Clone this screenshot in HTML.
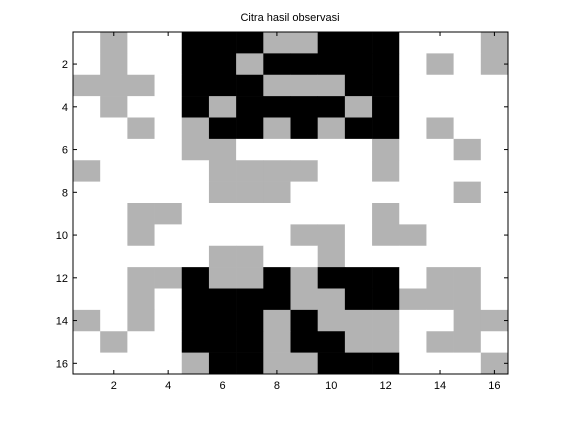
<!DOCTYPE html>
<html><head><meta charset="utf-8"><style>
body{margin:0;background:#fff;width:561px;height:420px;overflow:hidden}
svg text{font-family:"Liberation Sans",sans-serif;font-size:11px;fill:#000}
</style></head><body>
<svg id="chart" width="561" height="420" xmlns="http://www.w3.org/2000/svg">
<text x="290" y="21" text-anchor="middle">Citra hasil observasi</text>
<g id="cells"></g>
<g id="axes"></g>
</svg>
<script>
const rows = [
"0100222112220001",
"0100221222220101",
"1110222111220000",
"0100212222120000",
"0010122121220100",
"0000110000010010",
"1000011110010000",
"0000011100000010",
"0011000000010000",
"0010000011011000",
"0000011001000000",
"0011211212220110",
"0010222211221110",
"1010222121110011",
"0100222122110110",
"0000122112220001"
];
const xTicks = [2,4,6,8,10,12,14,16];
const yTicks = [2,4,6,8,10,12,14,16];
const colors = ["#ffffff","#b3b3b3","#000000"];
const L=73,R=508,T=32,B=374,N=16;
const sx=v=>L+(v-0.5)*(R-L)/N, sy=v=>T+(v-0.5)*(B-T)/N;
const NS="http://www.w3.org/2000/svg";
const cg=document.getElementById('cells'), ag=document.getElementById('axes');
rows.forEach((r,i)=>{[...r].forEach((c,j)=>{
  const e=document.createElementNS(NS,'rect');
  
  
  const x0=sx(j+0.5),x1=sx(j+1.5),y0=sy(i+0.5),y1=sy(i+1.5);
  e.setAttribute('x',x0);e.setAttribute('y',y0);
  e.setAttribute('width',x1-x0+0.3);e.setAttribute('height',y1-y0+0.3);
  e.setAttribute('fill',colors[+c]);cg.appendChild(e);
});});
const fr=document.createElementNS(NS,'rect');


fr.setAttribute('x',L);fr.setAttribute('y',T);fr.setAttribute('width',R-L);fr.setAttribute('height',B-T);
fr.setAttribute('fill','none');fr.setAttribute('stroke','#000');ag.appendChild(fr);
function line(x1,y1,x2,y2){const l=document.createElementNS(NS,'line');


l.setAttribute('x1',x1);l.setAttribute('y1',y1);l.setAttribute('x2',x2);l.setAttribute('y2',y2);l.setAttribute('stroke','#000');ag.appendChild(l);}
xTicks.forEach(v=>{const x=sx(v);line(x,B,x,B-4);line(x,T,x,T+4);
 const t=document.createElementNS(NS,'text');
 
 
 t.setAttribute('x',x);t.setAttribute('y',B+15);t.setAttribute('text-anchor','middle');t.textContent=v;ag.appendChild(t);});
yTicks.forEach(v=>{const y=sy(v);line(L,y,L+4,y);line(R,y,R-4,y);
 const t=document.createElementNS(NS,'text');
 
 
 t.setAttribute('x',L-5);t.setAttribute('y',y+4);t.setAttribute('text-anchor','end');t.textContent=v;ag.appendChild(t);});
</script>
</body></html>
